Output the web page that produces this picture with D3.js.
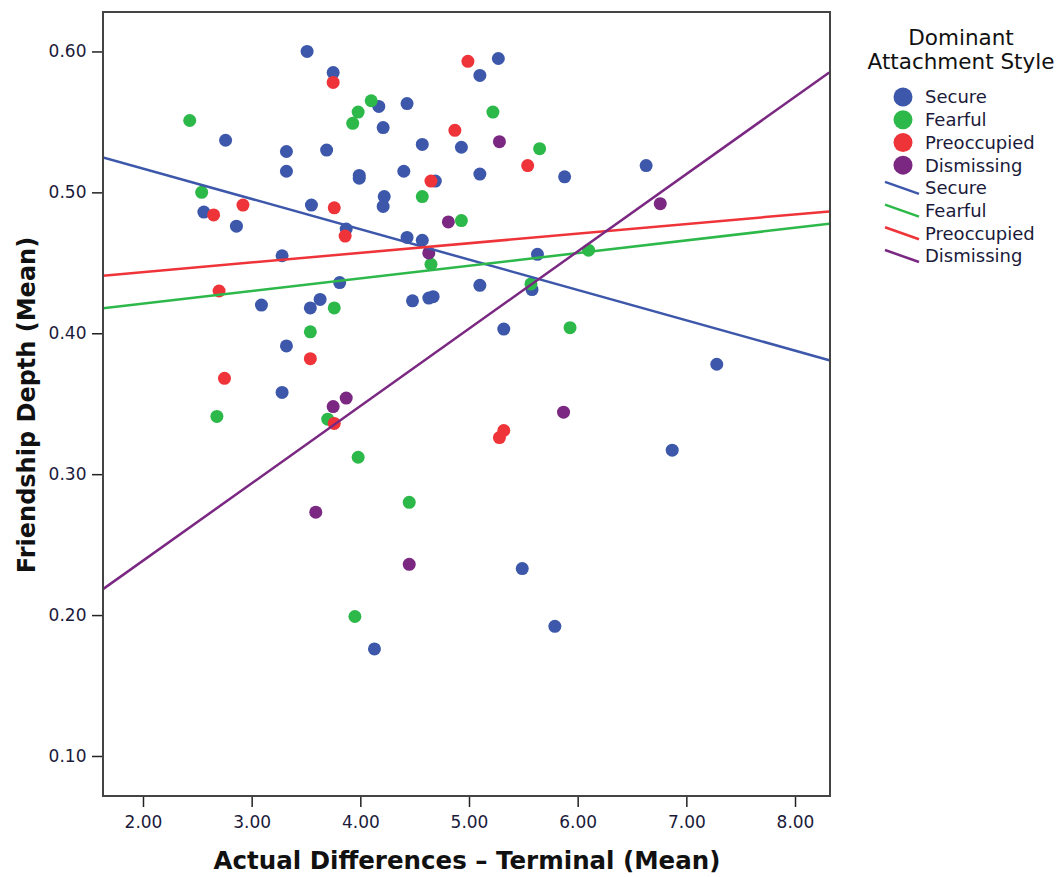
<!DOCTYPE html>
<html>
<head>
<meta charset="utf-8">
<script src="https://cdn.jsdelivr.net/npm/d3@7"></script>
<style>
  body { margin: 0; background: #fff; }
  text { font-family: "DejaVu Sans", Verdana, sans-serif; }
</style>
</head>
<body>
<div id="chart"></div>
<script>
// groups and colours
const groups = ["Secure", "Fearful", "Preoccupied", "Dismissing"];
const colors = ["#3d58ab", "#2db84a", "#ef3439", "#7a2882"];

// points: [x, y]
const secure = [
  [3.51, 0.600], [3.75, 0.585], [4.17, 0.561], [4.43, 0.563], [4.21, 0.546],
  [2.76, 0.537], [3.32, 0.529], [3.69, 0.530], [3.32, 0.515], [3.99, 0.512],
  [3.99, 0.510], [4.22, 0.497], [4.21, 0.490], [2.56, 0.486], [2.86, 0.476],
  [3.55, 0.491], [3.87, 0.474], [3.28, 0.455], [5.27, 0.595], [5.10, 0.583],
  [4.57, 0.534], [4.93, 0.532], [5.88, 0.511], [6.63, 0.519], [4.40, 0.515],
  [5.10, 0.513], [4.69, 0.508], [4.43, 0.468], [4.57, 0.466], [5.63, 0.456],
  [3.81, 0.436], [3.09, 0.420], [3.54, 0.418], [3.63, 0.424], [3.32, 0.391],
  [3.28, 0.358], [4.48, 0.423], [4.63, 0.425], [4.67, 0.426], [5.10, 0.434],
  [5.58, 0.431], [5.32, 0.403], [7.28, 0.378], [6.87, 0.317], [5.49, 0.233],
  [5.79, 0.192], [4.13, 0.176]
];
const fearful = [
  [2.43, 0.551], [4.10, 0.565], [3.98, 0.557], [3.93, 0.549], [5.22, 0.557],
  [5.65, 0.531], [2.54, 0.500], [4.57, 0.497], [4.93, 0.480], [4.65, 0.449],
  [6.10, 0.459], [5.57, 0.435], [3.76, 0.418], [3.54, 0.401], [5.93, 0.404],
  [2.68, 0.341], [3.70, 0.339], [3.98, 0.312], [4.45, 0.280], [3.95, 0.199]
];
const preoccupied = [
  [3.75, 0.578], [4.99, 0.593], [4.87, 0.544], [5.54, 0.519], [4.65, 0.508],
  [2.65, 0.484], [2.92, 0.491], [3.76, 0.489], [3.86, 0.469], [2.70, 0.430],
  [3.54, 0.382], [2.75, 0.368], [3.76, 0.336], [5.32, 0.331], [5.28, 0.326]
];
const dismissing = [
  [5.28, 0.536], [4.81, 0.479], [4.63, 0.457], [6.76, 0.492], [3.87, 0.354],
  [3.75, 0.348], [5.87, 0.344], [3.59, 0.273], [4.45, 0.236]
];
const pointSets = [secure, fearful, preoccupied, dismissing];

// fit lines: [x0, y0, x1, y1]
const fitLines = [
  [1.632, 0.5248, 8.315, 0.3809],
  [1.632, 0.4177, 8.315, 0.4777],
  [1.632, 0.4409, 8.315, 0.4865],
  [1.632, 0.2184, 8.315, 0.5851]
];

const xTicks = [2, 3, 4, 5, 6, 7, 8];
const yTicks = [0.1, 0.2, 0.3, 0.4, 0.5, 0.6];

const margin = {top: 12, left: 103, right: 234, bottom: 81};
const W = 1064, H = 877;
const width = W - margin.left - margin.right,
      height = H - margin.top - margin.bottom;

const svg = d3.select("#chart").append("svg")
    .attr("width", W).attr("height", H);
const g = svg.append("g")
    .attr("transform", `translate(${margin.left},${margin.top})`);

const x = d3.scaleLinear().domain([1.632, 8.322]).range([0, width]);
const y = d3.scaleLinear().domain([0.0716, 0.628]).range([height, 0]);

const tickColor = "#1a1a3a";

// axes
g.append("g")
    .attr("transform", `translate(0,${height})`)
    .call(d3.axisBottom(x).tickValues(xTicks).tickFormat(d3.format(".2f")).tickSize(11).tickSizeOuter(0))
    .call(a => a.select(".domain").remove())
    .call(a => a.selectAll("line").attr("stroke", "#222").attr("stroke-width", 1.5))
    .call(a => a.selectAll("text").attr("font-size", 17).attr("fill", tickColor).attr("dy", "1.05em")
        .style("font-family", '"DejaVu Sans", sans-serif'));

g.append("g")
    .call(d3.axisLeft(y).tickValues(yTicks).tickFormat(d3.format(".2f")).tickSize(11).tickSizeOuter(0))
    .call(a => a.select(".domain").remove())
    .call(a => a.selectAll("line").attr("stroke", "#222").attr("stroke-width", 1.5))
    .call(a => a.selectAll("text").attr("font-size", 17).attr("fill", tickColor).attr("dx", "-0.15em")
        .style("font-family", '"DejaVu Sans", sans-serif'));

// clip for fit lines
g.append("clipPath").attr("id", "plotclip")
  .append("rect").attr("width", width).attr("height", height);

// points
pointSets.forEach((pts, i) => {
  g.append("g").selectAll("circle")
    .data(pts)
    .join("circle")
    .attr("cx", d => x(d[0]))
    .attr("cy", d => y(d[1]))
    .attr("r", 6.5)
    .attr("fill", colors[i]);
});

// fit lines
g.append("g").attr("clip-path", "url(#plotclip)")
  .selectAll("line")
  .data(fitLines)
  .join("line")
  .attr("x1", d => x(d[0])).attr("y1", d => y(d[1]))
  .attr("x2", d => x(d[2])).attr("y2", d => y(d[3]))
  .attr("stroke", (d, i) => colors[i])
  .attr("stroke-width", 2.5);

// frame
g.append("rect")
  .attr("width", width).attr("height", height)
  .attr("fill", "none").attr("stroke", "#444").attr("stroke-width", 2);

// axis titles
svg.append("text")
  .attr("x", 467).attr("y", 869)
  .attr("text-anchor", "middle")
  .attr("font-size", 24.5).attr("font-weight", "bold").attr("fill", "#111")
  .text("Actual Differences \u2013 Terminal (Mean)");

svg.append("text")
  .attr("transform", `translate(35,405) rotate(-90)`)
  .attr("text-anchor", "middle")
  .attr("font-size", 24).attr("font-weight", "bold").attr("fill", "#111")
  .text("Friendship Depth (Mean)");

// legend
const leg = svg.append("g");
leg.append("text").attr("x", 961).attr("y", 45).attr("text-anchor", "middle")
  .attr("font-size", 21.5).attr("fill", "#111").text("Dominant");
leg.append("text").attr("x", 961).attr("y", 69).attr("text-anchor", "middle")
  .attr("font-size", 21.5).attr("fill", "#111").text("Attachment Style");

const rowY = d3.scaleLinear().domain([0, 7]).range([97, 256]);
groups.forEach((name, i) => {
  leg.append("circle").attr("cx", 903).attr("cy", rowY(i)).attr("r", 9.5).attr("fill", colors[i]);
  leg.append("text").attr("x", 925).attr("y", rowY(i)).attr("dy", "0.36em")
    .attr("font-size", 18).attr("fill", tickColor).text(name);
});
groups.forEach((name, i) => {
  const cy = rowY(i + 4);
  leg.append("line").attr("x1", 885).attr("y1", cy - 6).attr("x2", 919).attr("y2", cy + 6)
    .attr("stroke", colors[i]).attr("stroke-width", 2.5);
  leg.append("text").attr("x", 925).attr("y", cy).attr("dy", "0.36em")
    .attr("font-size", 18).attr("fill", tickColor).text(name);
});
</script>
</body>
</html>
